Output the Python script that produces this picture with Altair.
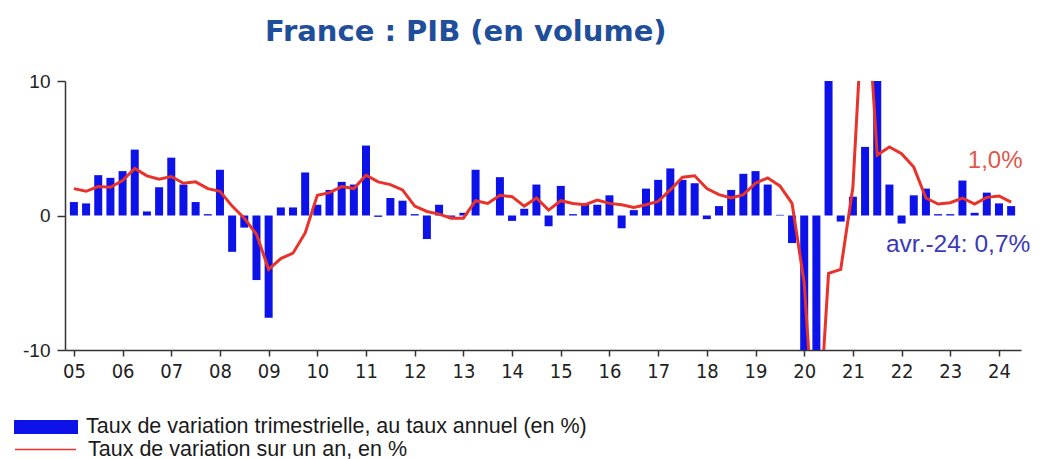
import altair as alt
import pandas as pd

years = list(range(2005, 2025))
quarters_per_year = [4] * 19 + [2]

# Taux de variation trimestrielle, au taux annuel (en %)
bar_values = [
    1.0, 0.9, 3.0, 2.8,      # 2005
    3.3, 4.9, 0.3, 2.1,      # 2006
    4.3, 2.3, 1.0, 0.1,      # 2007
    3.4, -2.7, -0.9, -4.8,   # 2008
    -7.6, 0.6, 0.6, 3.2,     # 2009
    0.8, 1.9, 2.5, 2.3,      # 2010
    5.2, -0.1, 1.3, 1.1,     # 2011
    0.1, -1.75, 0.8, -0.1,   # 2012
    0.2, 3.4, 0.0, 2.85,     # 2013
    -0.4, 0.5, 2.3, -0.8,    # 2014
    2.2, 0.1, 0.9, 0.8,      # 2015
    1.5, -0.95, 0.4, 2.0,    # 2016
    2.65, 3.5, 2.65, 2.4,    # 2017
    -0.27, 0.7, 1.9, 3.1,    # 2018
    3.3, 2.3, 0.05, -2.05,   # 2019
    -21.6, -43.0, 98.0, -0.45,  # 2020
    1.4, 5.1, 12.6, 2.3,     # 2021
    -0.6, 1.5, 2.0, 0.1,     # 2022
    0.1, 2.6, 0.2, 1.7,      # 2023
    0.9, 0.7,                # 2024
]

# Taux de variation sur un an, en %
line_values = [
    2.0, 1.8, 2.15, 2.1,
    2.6, 3.5, 2.95, 2.7,
    2.9, 2.4, 2.5, 2.0,
    1.8, 0.7, -0.2, -1.4,
    -4.0, -3.2, -2.8, -1.3,
    1.5, 1.7, 2.15, 2.0,
    3.0, 2.5, 2.3, 1.9,
    0.7, 0.3, 0.1, -0.2,
    -0.2, 1.1, 0.9, 1.5,
    1.4, 0.7, 1.3, 0.4,
    1.1, 0.9, 0.8, 1.15,
    0.9, 0.8, 0.6, 0.8,
    1.05, 1.9, 2.85, 2.95,
    2.0, 1.55, 1.3, 1.55,
    2.4, 2.8, 2.2, 0.9,
    -5.0, -18.8, -4.3, -4.0,
    2.1, 18.7, 4.5, 5.1,
    4.6, 3.6, 1.3, 0.85,
    0.95, 1.3, 0.85, 1.35,
    1.45, 1.0,
]

year_ticks = years
y_ticks = [-10, 0, 10]
bar_name = "Taux de variation trimestrielle, au taux annuel (en %)"
line_name = "Taux de variation sur un an, en %"
label_line = "1,0%"
label_bar = "avr.-24: 0,7%"

t = []
for y, n in zip(years, quarters_per_year):
    for q in range(n):
        t.append(y + q / 4)

df = pd.DataFrame({"t": t, "bar": bar_values, "line": line_values})
df["s_bar"] = bar_name
df["s_line"] = line_name
last = df.tail(1).copy()
last["lab_line"] = label_line
last["lab_bar"] = label_bar

x_scale = alt.Scale(domain=[2004.92, 2024.35], nice=False, zero=False)
y_scale = alt.Scale(domain=[-10, 10], nice=False)

narrow = "Liberation Sans Narrow, DejaVu Sans Condensed, Liberation Sans, sans-serif"

x_axis = alt.Axis(
    values=year_ticks, labelExpr="substring(toString(datum.value), 2, 4)",
    title=None, grid=False, domainColor="#333333", tickColor="#333333",
    tickSize=6, labelFont=narrow, labelFontSize=20,
    labelColor="#222222", labelPadding=5, domainWidth=1.5, tickWidth=1.5,
)
y_axis = alt.Axis(
    values=y_ticks, labelExpr="toString(datum.value)", title=None, grid=False,
    domainColor="#333333", tickColor="#333333", tickSize=8,
    labelFont="Liberation Sans", labelFontSize=19, labelColor="#222222",
    labelPadding=7, domainWidth=1.5, tickWidth=1.5,
)

bars = alt.Chart(df).mark_bar(size=8, clip=True).encode(
    x=alt.X("t:Q", scale=x_scale, axis=x_axis),
    y=alt.Y("bar:Q", scale=y_scale, axis=y_axis),
    fill=alt.Fill("s_bar:N", scale=alt.Scale(range=["#0c12e8"]),
                  legend=alt.Legend(
                      orient="none", legendX=-51, legendY=314, title=None,
                      symbolType="M-1,-0.22H1V0.22H-1Z", symbolSize=4096,
                      symbolStrokeWidth=0, labelFont="Liberation Sans",
                      labelFontSize=21.5, labelColor="#1a1a1a", labelOffset=8,
                      padding=0, labelLimit=800)),
)

line = alt.Chart(df).mark_line(strokeWidth=3, clip=True).encode(
    x=alt.X("t:Q", scale=x_scale),
    y=alt.Y("line:Q", scale=y_scale),
    stroke=alt.Stroke("s_line:N", scale=alt.Scale(range=["#e8322a"]),
                      legend=alt.Legend(
                          orient="none", legendX=-51, legendY=337, title=None,
                          symbolType="M-1,0H1", symbolSize=3721,
                          symbolStrokeWidth=1.5, symbolFillColor="transparent",
                          symbolStrokeColor="#e06a5a",
                          labelFont="Liberation Sans", labelFontSize=21.5,
                          labelColor="#1a1a1a", labelOffset=11, padding=0,
                          labelLimit=800)),
)

txt_line = alt.Chart(last).mark_text(
    font="Liberation Sans", fontSize=24, color="#e0584a", dx=-16, dy=-41
).encode(x=alt.X("t:Q", scale=x_scale), y=alt.Y("line:Q", scale=y_scale),
         text="lab_line:N")

txt_bar = alt.Chart(last).mark_text(
    font="Liberation Sans", fontSize=24.5, color="#3a3ab8", dx=-53, dy=39
).encode(x=alt.X("t:Q", scale=x_scale), y=alt.Y("bar:Q", scale=y_scale),
         text="lab_bar:N")

chart = alt.layer(bars, line, txt_line, txt_bar).properties(
    width=956, height=269,
    background="white",
    title=alt.TitleParams(
        "France : PIB (en volume)", font="DejaVu Sans", fontSize=29,
        fontWeight="bold", color="#1f4e9a", anchor="start", frame="group",
        dx=200, offset=25),
    autosize=alt.AutoSizeParams(type="none"),
    padding={"left": 57, "top": 73, "right": 14, "bottom": 115},
).resolve_scale(fill="independent", stroke="independent").configure_view(
    strokeWidth=0, stroke="transparent"
)

chart.save("out.html", embed_options={"renderer": "svg", "actions": False})
